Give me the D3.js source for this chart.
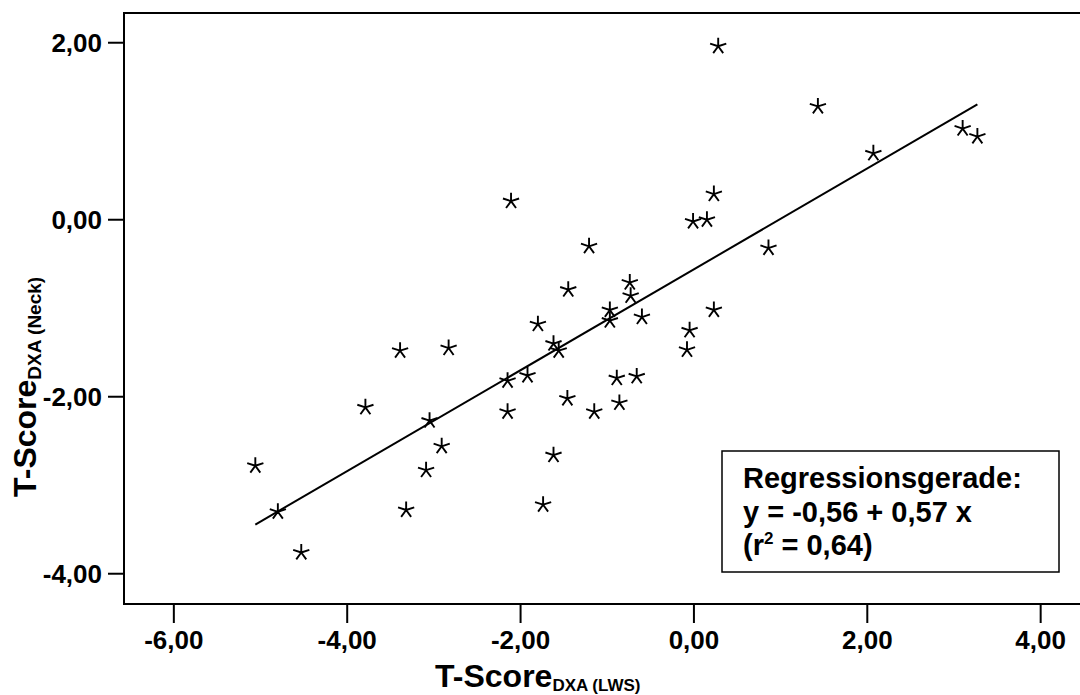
<!DOCTYPE html>
<html>
<head>
<meta charset="utf-8">
<script src="https://cdn.jsdelivr.net/npm/d3@7"></script>
<style>
  body { margin: 0; background: #fff; }
  svg text { font-family: "Liberation Sans", Arial, Helvetica, sans-serif; font-weight: bold; fill: #000; }
</style>
</head>
<body>
<svg id="chart" width="1080" height="695"></svg>
<script>
// T-Score DXA (LWS) vs T-Score DXA (Neck)
var lwsScores = [-5.06, -4.80, -4.53, -3.79, -3.39, -3.32, -3.09, -3.05, -2.91, -2.83,
  -2.11, -2.15, -2.15, -1.92, -1.80, -1.74, -1.62, -1.62, -1.56, -1.46,
  -1.45, -1.21, -1.15, -0.97, -0.97, -0.89, -0.86, -0.74, -0.73, -0.66,
  -0.60, -0.08, -0.05, -0.01, 0.15, 0.23, 0.23, 0.28, 0.86, 1.43,
  2.07, 3.10, 3.27];
var neckScores = [-2.78, -3.30, -3.76, -2.12, -1.48, -3.28, -2.83, -2.27, -2.56, -1.45,
  0.21, -1.82, -2.17, -1.76, -1.18, -3.22, -2.66, -1.40, -1.48, -2.02,
  -0.79, -0.30, -2.17, -1.02, -1.14, -1.79, -2.07, -0.71, -0.86, -1.77,
  -1.10, -1.47, -1.25, -0.02, 0.00, -1.02, 0.29, 1.96, -0.32, 1.28,
  0.75, 1.03, 0.94];

var xTicks = [-6, -4, -2, 0, 2, 4];
var yTicks = [-4, -2, 0, 2];

// regression line y = a + b x
var intercept = -0.56;
var slope = 0.57;
var legendLines = ["Regressionsgerade:", "y = -0,56 + 0,57 x"];
var rSquared = "0,64";

// german style numbers, plain hyphen as minus
var locale = d3.formatLocale({ decimal: ",", thousands: ".", grouping: [3], currency: ["", " €"], minus: "-" });
var fmt = locale.format(".2f");

var svg = d3.select("#chart");

var x = d3.scaleLinear().domain([-6.575, 4.5]).range([124, 1084]);
var y = d3.scaleLinear().domain([-4.342, 2.336]).range([604, 13]);

// frame (right side is off the canvas)
svg.append("path")
  .attr("d", "M1090," + y.range()[1] + "H" + x.range()[0] + "V" + y.range()[0] + "H1090")
  .attr("fill", "none")
  .attr("stroke", "#000")
  .attr("stroke-width", 2);

// x axis ticks + labels
var xAxis = svg.append("g");
xAxis.selectAll("line").data(xTicks).enter().append("line")
  .attr("x1", d => x(d)).attr("x2", d => x(d))
  .attr("y1", 604).attr("y2", 623)
  .attr("stroke", "#000").attr("stroke-width", 2);
xAxis.selectAll("text").data(xTicks).enter().append("text")
  .attr("x", d => x(d)).attr("y", 648.5)
  .attr("text-anchor", "middle")
  .style("font-size", "26px")
  .text(fmt);

// y axis ticks + labels
var yAxis = svg.append("g");
yAxis.selectAll("line").data(yTicks).enter().append("line")
  .attr("x1", 108).attr("x2", 124)
  .attr("y1", d => y(d)).attr("y2", d => y(d))
  .attr("stroke", "#000").attr("stroke-width", 2);
yAxis.selectAll("text").data(yTicks).enter().append("text")
  .attr("x", 102).attr("y", d => y(d) + 9.5)
  .attr("text-anchor", "end")
  .style("font-size", "26px")
  .text(fmt);

// axis titles
var xTitle = svg.append("text").attr("x", 435).attr("y", 687);
xTitle.append("tspan").style("font-size", "32px").text("T-Score");
xTitle.append("tspan").style("font-size", "17px").attr("dy", 4).text("DXA (LWS)");

var yTitle = svg.append("text")
  .attr("transform", "translate(36,497) rotate(-90)");
yTitle.append("tspan").style("font-size", "32px").text("T-Score");
yTitle.append("tspan").style("font-size", "19px").attr("dy", 5).text("DXA (Neck)");

// regression line
var xExt = d3.extent(lwsScores);
var line = d3.line().x(d => x(d)).y(d => y(intercept + slope * d));
svg.append("path")
  .datum(xExt)
  .attr("d", line)
  .attr("fill", "none")
  .attr("stroke", "#000")
  .attr("stroke-width", 2);

// star markers (5 arms)
function starPath(r) {
  var p = d3.path();
  for (var i = 0; i < 5; i++) {
    var a = -Math.PI / 2 + i * 2 * Math.PI / 5;
    p.moveTo(0, 0);
    p.lineTo(r * Math.cos(a), r * Math.sin(a));
  }
  return p.toString();
}
var pts = lwsScores.map((v, i) => [v, neckScores[i]]);
svg.append("g").selectAll("path").data(pts).enter().append("path")
  .attr("transform", d => "translate(" + x(d[0]) + "," + y(d[1]) + ")")
  .attr("d", starPath(8.5))
  .attr("fill", "none")
  .attr("stroke", "#000")
  .attr("stroke-width", 1.9);

// legend box
svg.append("rect")
  .attr("x", 722).attr("y", 451)
  .attr("width", 337).attr("height", 121)
  .attr("fill", "#fff")
  .attr("stroke", "#000")
  .attr("stroke-width", 1.5);

var legend = svg.append("g").style("font-size", "29px");
legend.selectAll("text.l").data(legendLines).enter().append("text")
  .attr("class", "l")
  .attr("x", 743).attr("y", (d, i) => 488 + i * 33.5)
  .text(d => d);
var rLine = legend.append("text").attr("x", 743).attr("y", 555);
rLine.append("tspan").text("(r");
rLine.append("tspan").attr("dy", -11).style("font-size", "17px").text("2");
rLine.append("tspan").attr("dy", 11).text(" = " + rSquared + ")");
</script>
</body>
</html>
